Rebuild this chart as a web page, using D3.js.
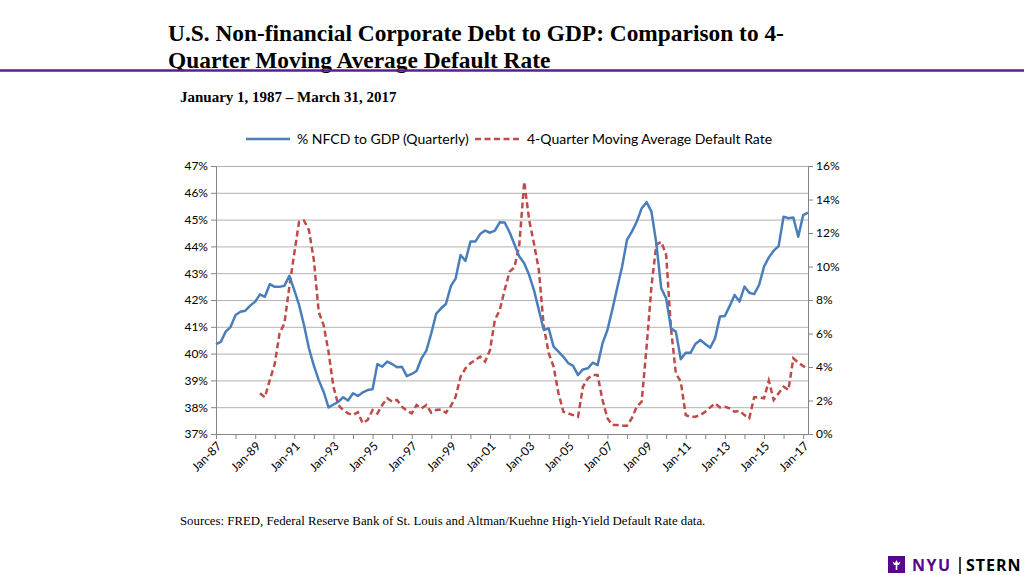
<html>
<head>
<meta charset="utf-8">
<title>NFCD to GDP vs Default Rate</title>
<style>
    body { margin: 0; background: #fff; }
    svg { display: block; }
    .axis text { font-family: Lato, "Open Sans", sans-serif; font-size: 12px; fill: #000; }
    .axis path, .axis line { stroke: #868686; }
    .grid line { stroke: #b3b3b3; }
    .grid path { display: none; }
</style>
</head>
<body>
<script src="https://d3js.org/d3.v7.min.js"></script>
<script>
    // % NFCD to GDP, one value per quarter from 1987 Q1
    const debtToGdp = [
        40.35, 40.44, 40.82, 41.00, 41.44, 41.56, 41.60, 41.79, 41.94, 42.21,
        42.12, 42.59, 42.49, 42.49, 42.53, 42.90, 42.37, 41.81, 41.07, 40.20,
        39.55, 39.01, 38.58, 37.99, 38.10, 38.20, 38.37, 38.25, 38.52, 38.42,
        38.55, 38.64, 38.67, 39.61, 39.51, 39.70, 39.61, 39.49, 39.51, 39.16,
        39.24, 39.35, 39.82, 40.11, 40.76, 41.48, 41.69, 41.85, 42.52, 42.81,
        43.68, 43.46, 44.18, 44.18, 44.46, 44.59, 44.51, 44.59, 44.90, 44.89,
        44.53, 44.08, 43.62, 43.37, 42.93, 42.37, 41.63, 40.88, 40.94, 40.26,
        40.07, 39.88, 39.64, 39.54, 39.20, 39.41, 39.45, 39.66, 39.57, 40.38,
        40.88, 41.63, 42.44, 43.24, 44.24, 44.55, 44.92, 45.42, 45.65, 45.30,
        44.12, 42.44, 42.06, 40.94, 40.82, 39.79, 40.03, 40.03, 40.36, 40.51,
        40.36, 40.22, 40.57, 41.38, 41.40, 41.78, 42.19, 41.94, 42.50, 42.27,
        42.22, 42.56, 43.24, 43.59, 43.84, 44.01, 45.11, 45.05, 45.08, 44.36,
        45.17, 45.26
    ];
    const debtStart = new Date(1987, 0, 1);

    // 4-quarter moving average default rate (%), one value per quarter from 1989 Q2
    const defaultRate = [
        2.43, 2.19, 3.22, 4.18, 6.01, 6.61, 8.80, 10.79, 12.68, 12.74,
        12.18, 10.39, 7.30, 6.51, 4.91, 2.82, 1.73, 1.43, 1.23, 1.13,
        1.30, 0.64, 0.84, 1.43, 1.23, 1.73, 2.13, 1.93, 2.03, 1.63,
        1.39, 1.23, 1.73, 1.53, 1.73, 1.27, 1.43, 1.47, 1.27, 1.67,
        2.23, 3.42, 3.92, 4.22, 4.42, 4.62, 4.32, 5.01, 6.81, 7.40,
        8.60, 9.69, 9.95, 11.28, 15.06, 12.78, 11.38, 9.79, 6.41, 4.82,
        4.02, 2.43, 1.33, 1.23, 1.13, 1.03, 2.82, 3.32, 3.52, 3.52,
        2.03, 0.94, 0.54, 0.54, 0.50, 0.50, 0.94, 1.63, 1.93, 5.21,
        8.79, 11.30, 11.48, 10.70, 6.30, 3.62, 3.12, 1.13, 1.03, 1.03,
        1.13, 1.33, 1.59, 1.83, 1.59, 1.63, 1.53, 1.33, 1.39, 1.13,
        0.94, 2.19, 2.19, 2.13, 3.18, 2.03, 2.43, 2.82, 2.63, 4.52,
        4.26, 4.06, 3.86
    ];
    const defaultStart = new Date(1989, 3, 1);

    const leftTicks = [37, 38, 39, 40, 41, 42, 43, 44, 45, 46, 47];
    const rightTicks = [0, 2, 4, 6, 8, 10, 12, 14, 16];
    const tickYears = [1987, 1988, 1989, 1990, 1991, 1992, 1993, 1994, 1995, 1996,
        1997, 1998, 1999, 2000, 2001, 2002, 2003, 2004, 2005, 2006, 2007, 2008,
        2009, 2010, 2011, 2012, 2013, 2014, 2015, 2016, 2017];
    const seriesNames = ["% NFCD to GDP (Quarterly)", "4-Quarter Moving Average Default Rate"];

    const width = 1024
    const height = 575
    const plotLeft = 216, plotRight = 808, plotTop = 166, plotBottom = 434;

    const svg = d3.select("body")
                .append("svg")
                .attr("width", width)
                .attr("height", height)

    // Titles
    svg.append("text")
        .attr("x", 168).attr("y", 41)
        .style("font-family", "'Liberation Serif', 'Times New Roman', serif")
        .style("font-weight", "bold").style("font-size", "23.4px")
        .text("U.S. Non-financial Corporate Debt to GDP: Comparison to 4-");
    svg.append("text")
        .attr("x", 168).attr("y", 68)
        .style("font-family", "'Liberation Serif', 'Times New Roman', serif")
        .style("font-weight", "bold").style("font-size", "23.4px")
        .text("Quarter Moving Average Default Rate");
    svg.append("line")
        .attr("x1", 0).attr("x2", width)
        .attr("y1", 70.5).attr("y2", 70.5)
        .attr("stroke", "#5b1f8c").attr("stroke-width", 2.5);
    svg.append("text")
        .attr("x", 180).attr("y", 102)
        .style("font-family", "'Liberation Serif', 'Times New Roman', serif")
        .style("font-weight", "bold").style("font-size", "15px")
        .text("January 1, 1987 \u2013 March 31, 2017");

    // Scales
    const xScale = d3.scaleTime()
                    .domain([new Date(1987, 0, 1), new Date(2017, 3, 1)])
                    .range([plotLeft, plotRight]);
    const yLeft = d3.scaleLinear().domain([37, 47]).range([plotBottom, plotTop]);
    const yRight = d3.scaleLinear().domain([0, 16]).range([plotBottom, plotTop]);

    // Gridlines
    svg.append("g")
        .attr("class", "grid")
        .attr("transform", "translate(" + plotLeft + ",0)")
        .call(d3.axisLeft(yLeft).tickValues(leftTicks).tickSize(-(plotRight - plotLeft)).tickFormat(""));

    // Axes
    svg.append("g")
        .attr("class", "axis")
        .attr("transform", "translate(" + plotLeft + ",0)")
        .call(d3.axisLeft(yLeft).tickValues(leftTicks).tickSize(5).tickSizeOuter(0)
              .tickFormat(d => d + "%"));

    svg.append("g")
        .attr("class", "axis")
        .attr("transform", "translate(" + plotRight + ",0)")
        .call(d3.axisRight(yRight).tickValues(rightTicks).tickSize(5).tickSizeOuter(0)
              .tickFormat(d => d + "%"));

    const fmt = d3.timeFormat("%b-%y");
    const xAxis = svg.append("g")
        .attr("class", "axis")
        .attr("transform", "translate(0," + plotBottom + ")")
        .call(d3.axisBottom(xScale)
              .tickValues(tickYears.map(y => new Date(y, 0, 1)))
              .tickSize(5).tickSizeOuter(0)
              .tickFormat((d, i) => i % 2 ? "" : fmt(d)));
    xAxis.selectAll("text")
        .attr("x", -5).attr("y", 9).attr("dy", "0.35em")
        .attr("transform", "rotate(-45)")
        .style("text-anchor", "end");

    // Lines
    const debtData = debtToGdp.map((v, i) => ({date: d3.timeMonth.offset(debtStart, 3 * i), v: v}));
    const defaultData = defaultRate.map((v, i) => ({date: d3.timeMonth.offset(defaultStart, 3 * i), v: v}));

    svg.append("path")
        .datum(defaultData)
        .attr("fill", "none")
        .attr("stroke", "#be4b48")
        .attr("stroke-width", 2.5)
        .attr("stroke-dasharray", "6,3.5")
        .attr("d", d3.line().x(d => xScale(d.date)).y(d => yRight(d.v)));

    svg.append("path")
        .datum(debtData)
        .attr("fill", "none")
        .attr("stroke", "#4a7ebb")
        .attr("stroke-width", 2.5)
        .attr("stroke-linejoin", "round")
        .attr("d", d3.line().x(d => xScale(d.date)).y(d => yLeft(d.v)));

    // Legend
    const legend = svg.append("g").attr("transform", "translate(0,139)");
    legend.append("line").attr("x1", 246).attr("x2", 290)
        .attr("stroke", "#4a7ebb").attr("stroke-width", 2.5);
    legend.append("text").attr("x", 297).attr("dy", "0.35em")
        .style("font-family", "Lato, sans-serif").style("font-size", "14px")
        .text(seriesNames[0]);
    legend.append("line").attr("x1", 475).attr("x2", 520)
        .attr("stroke", "#be4b48").attr("stroke-width", 2.5)
        .attr("stroke-dasharray", "6,3.5");
    legend.append("text").attr("x", 527).attr("dy", "0.35em")
        .style("font-family", "Lato, sans-serif").style("font-size", "14px")
        .text(seriesNames[1]);

    // Source note
    svg.append("text")
        .attr("x", 180).attr("y", 525)
        .style("font-family", "'Liberation Serif', 'Times New Roman', serif")
        .style("font-size", "12.8px")
        .text("Sources: FRED, Federal Reserve Bank of St. Louis and Altman/Kuehne High-Yield Default Rate data.");

    // NYU Stern mark
    const logo = svg.append("g").attr("transform", "translate(888,556)");
    logo.append("rect").attr("width", 17).attr("height", 17).attr("fill", "#57068c");
    logo.append("path")
        .attr("d", "M8.5 4 L10 7 L12.5 5.5 L11 9 L9.3 9 L9.3 14 L7.7 14 L7.7 9 L6 9 L4.5 5.5 L7 7 Z")
        .attr("fill", "#fff");
    logo.append("text").attr("x", 24).attr("y", 15)
        .style("font-family", "'Open Sans', sans-serif").style("font-weight", "bold")
        .style("font-size", "16px").style("letter-spacing", "1.5px").attr("fill", "#57068c")
        .text("NYU");
    logo.append("line").attr("x1", 72).attr("x2", 72).attr("y1", 1).attr("y2", 18)
        .attr("stroke", "#000").attr("stroke-width", 1.5);
    logo.append("text").attr("x", 78).attr("y", 15)
        .style("font-family", "'Open Sans', sans-serif").style("font-weight", "bold")
        .style("font-size", "16px").style("letter-spacing", "1px").attr("fill", "#000")
        .text("STERN");
</script>
</body>
</html>
